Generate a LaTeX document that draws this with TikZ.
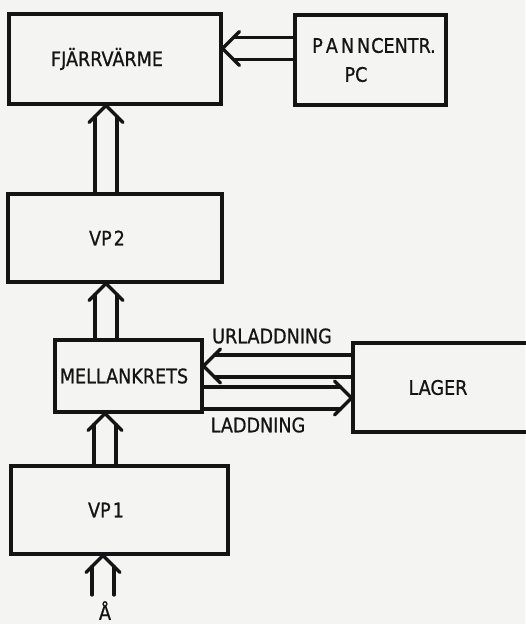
\documentclass[tikz,border=0pt]{standalone}
\usepackage{fontspec}
\setmainfont{DejaVu Sans}[FakeStretch=0.88,FakeBold=0.8]
\usetikzlibrary{calc}
\definecolor{paper}{HTML}{F4F4F2}
\definecolor{ink}{HTML}{141414}
% vertical double arrow: #1 source point, #2 target point, #3 x of arrow axis
\newcommand{\dblv}[3]{%
  \coordinate (tmpx) at (#3,0);
  \draw[conn] ($(tmpx |- #1)+(-11,0)$) -- ($(tmpx |- #2)+(-11,11)$);
  \draw[conn] ($(tmpx |- #1)+(11,0)$) -- ($(tmpx |- #2)+(11,11)$);
  \draw[conn] ($(tmpx |- #2)+(-17,17)$) -- (tmpx |- #2) -- ($(tmpx |- #2)+(17,17)$);
}
% horizontal double arrow: #1 source point, #2 target point, #3 y of axis, #4 side of the arms (1 or -1)
\newcommand{\dblh}[4]{%
  \coordinate (tmpy) at (0,#3);
  \draw[conn] ($(tmpy -| #1)+(0,-11)$) -- ($(tmpy -| #2)+(#4*11,-11)$);
  \draw[conn] ($(tmpy -| #1)+(0,11)$) -- ($(tmpy -| #2)+(#4*11,11)$);
  \draw[conn] ($(tmpy -| #2)+(#4*17,-17)$) -- (tmpy -| #2) -- ($(tmpy -| #2)+(#4*17,17)$);
}
\begin{document}
\begin{tikzpicture}[x=1pt,y=-1pt,
  box/.style={draw=ink, line width=3.1pt, inner sep=0pt, text=ink,
    font=\fontsize{20}{24}\selectfont, align=center},
  conn/.style={draw=ink, line width=3.3pt, line cap=round, line join=miter},
  lbl/.style={text=ink, inner sep=0pt, font=\fontsize{20}{24}\selectfont}]
\fill[paper] (0,0) rectangle (525,624);
\useasboundingbox (0,0) rectangle (525,624);

\node[box, minimum width=212pt, minimum height=90pt] (fj) at (115,59)
  {FJÄRRVÄRME\hspace*{16pt}};
\node[box, minimum width=151pt, minimum height=90pt] (pc) at (370.5,60)
  {\hspace*{7pt}P\kern3pt A\kern3pt N\kern3pt N\kern1pt CENTR.\\[5pt]PC\hspace*{29pt}};
\node[box, minimum width=214pt, minimum height=88pt] (vp2) at (115,238)
  {VP\kern2pt 2\hspace*{16pt}};
\node[box, minimum width=147pt, minimum height=72pt] (mk) at (128.5,376)
  {MELLANKRETS\hspace*{9pt}};
\node[box, minimum width=182pt, minimum height=89pt] (lager) at (444,387.5)
  {LAGER\hspace*{12pt}};
\node[box, minimum width=217pt, minimum height=88pt] (vp1) at (119.5,510)
  {VP\kern2pt 1\hspace*{27pt}};
\node[lbl, anchor=north] (aa) at (105,601) {Å};
\coordinate (in) at (103,595);

\node[lbl] (ur) at (272,336) {URLADDNING};
\node[lbl] (la) at (258,425) {LADDNING};

\dblh{pc.west}{fj.east}{48.5}{1}
\dblv{vp2.north}{fj.south}{106}
\dblv{mk.north}{vp2.south}{106}
\dblv{vp1.north}{mk.south}{105}
\dblv{in}{vp1.south}{103}
\dblh{lager.west}{mk.east}{366}{1}
\dblh{mk.east}{lager.west}{398}{-1}
\end{tikzpicture}
\end{document}
